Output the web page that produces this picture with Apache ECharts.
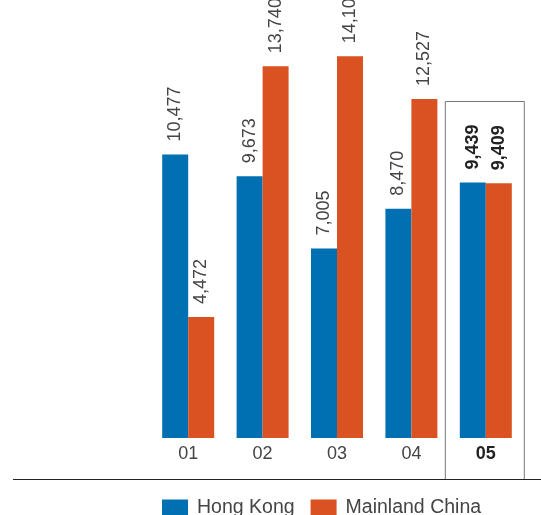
<!DOCTYPE html>
<html>
<head>
<meta charset="utf-8">
<script src="https://cdn.jsdelivr.net/npm/echarts@6/dist/echarts.min.js"></script>
<style>
  html, body { margin: 0; padding: 0; background: #fff; }
  #chart { width: 541px; height: 515px; }
</style>
</head>
<body>
<div id="chart"></div>
<script>
// Periods shown along the bottom axis
const categories = ['01', '02', '03', '04', '05'];
// Series values
const hongKong = [10477, 9673, 7005, 8470, 9439];
const mainlandChina = [4472, 13740, 14106, 12527, 9409];
const seriesNames = ['Hong Kong', 'Mainland China'];

const BLUE = '#0070B2';
const ORANGE = '#DA5221';
const TEXT = '#444444';
const FONT = '"Liberation Sans", Arial, sans-serif';
const lastIdx = categories.length - 1;

function fmt(v) { return v.toLocaleString('en-US'); }

function makeSeries(name, values, color) {
  return {
    name: name,
    type: 'bar',
    barWidth: 26,
    barGap: 0,
    itemStyle: { color: color },
    data: values.map((v, i) => ({
      value: v,
      label: i === lastIdx ? { fontWeight: 'bold', color: '#222' } : {}
    })),
    label: {
      show: true,
      position: 'top',
      rotate: 90,
      align: 'left',
      verticalAlign: 'middle',
      distance: 13,
      fontSize: 18,
      fontFamily: FONT,
      color: TEXT,
      formatter: p => fmt(p.value)
    }
  };
}

const chart = echarts.init(document.getElementById('chart'), null, { renderer: 'canvas' });

const option = {
  animation: false,
  grid: { left: 151, right: 18, top: 5, bottom: 77 },
  legend: {
    left: 162,
    top: 498,
    padding: 0,
    itemWidth: 26,
    itemHeight: 17,
    itemGap: 16,
    icon: 'rect',
    textStyle: { fontSize: 19.5, fontFamily: FONT, color: TEXT, padding: [3, 0, 0, 4] },
    data: seriesNames
  },
  xAxis: {
    type: 'category',
    data: categories,
    axisLine: { show: false },
    axisTick: { show: false },
    axisLabel: {
      margin: 7,
      fontSize: 18,
      fontFamily: FONT,
      color: TEXT,
      formatter: (v, i) => i === lastIdx ? '{b|' + v + '}' : v,
      rich: { b: { fontWeight: 'bold', fontSize: 18, fontFamily: FONT, color: '#222' } }
    }
  },
  yAxis: {
    type: 'value',
    min: 0,
    max: 16000,
    show: false,
    splitLine: { show: false }
  },
  series: [
    makeSeries(seriesNames[0], hongKong, BLUE),
    makeSeries(seriesNames[1], mainlandChina, ORANGE)
  ]
};

chart.setOption(option);

// Frame highlighting the latest period, plus the rule under the axis labels
function drawDecorations() {
  const cx = chart.convertToPixel({ xAxisIndex: 0 }, categories[lastIdx]);
  const ruleY = 479.5;
  chart.setOption({
    graphic: [
      {
        type: 'rect',
        shape: { x: cx - 40.5, y: 101.5, width: 79, height: ruleY - 101.5 },
        style: { fill: 'none', stroke: '#777', lineWidth: 1 },
        z: 10
      },
      {
        type: 'line',
        shape: { x1: 13, y1: ruleY, x2: 541, y2: ruleY },
        style: { stroke: '#222', lineWidth: 1.2 },
        z: 11
      }
    ]
  });
}
drawDecorations();
</script>
</body>
</html>
